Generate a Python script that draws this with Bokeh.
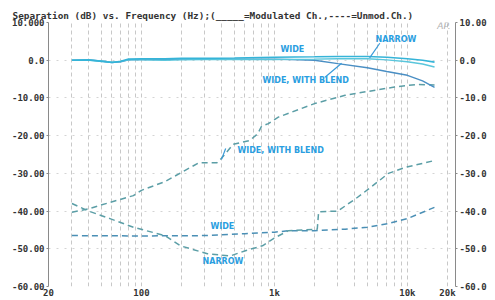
from bokeh.plotting import figure
from bokeh.models import FixedTicker, LinearAxis, Label, Range1d
from bokeh.embed import file_html
from bokeh.resources import INLINE

# ---- data ----
freq_mod = [30, 40, 50, 60, 70, 80, 100, 150, 200, 300, 500, 1000, 2000, 3000, 5000, 7000, 10000, 13000, 16000]
mod_wide = [0.0, 0.1, -0.3, -0.6, -0.3, 0.3, 0.4, 0.4, 0.5, 0.5, 0.6, 0.8, 0.9, 1.0, 1.0, 0.8, 0.4, 0.0, -0.5]
mod_narrow = [0.0, 0.0, -0.2, -0.5, -0.3, 0.1, 0.1, 0.0, 0.1, 0.2, 0.2, 0.2, 0.3, 0.4, 0.4, 0.1, -0.4, -1.0, -1.8]
mod_blend = [0.0, 0.1, -0.2, -0.6, -0.4, 0.1, 0.2, 0.2, 0.3, 0.3, 0.3, 0.3, 0.0, -0.9, -2.0, -3.0, -4.0, -5.5, -7.2]

freq_blend = [30, 40, 58, 87, 100, 150, 270, 370, 400, 490, 650, 750, 800, 900, 1070, 2000, 3400, 8000, 12000, 16000]
unmod_blend = [-40.3, -39.4, -37.7, -35.9, -34.5, -32.2, -27.2, -27.2, -26.0, -22.3, -21.3, -19.5, -17.5, -16.8, -15.1, -11.5, -9.3, -7.1, -6.4, -6.6]

freq_wide = [30, 100, 300, 600, 1000, 1300, 2000, 3400, 5000, 7200, 10000, 16000]
unmod_wide = [-46.5, -46.6, -46.5, -46.0, -45.6, -45.2, -45.2, -44.8, -44.3, -43.3, -42.0, -39.0]

freq_narrow = [30, 40, 58, 87, 150, 196, 313, 467, 605, 813, 1018, 1276, 1700, 2100, 2150, 3000, 4200, 5300, 7200, 9700, 16000]
unmod_narrow = [-38.0, -40.0, -42.0, -44.3, -46.5, -49.2, -51.3, -51.9, -50.5, -49.2, -47.0, -45.2, -45.0, -44.8, -40.2, -40.0, -36.4, -33.7, -30.0, -28.4, -26.6]

y_ticks = [10, 0, -10, -20, -30, -40, -50, -60]
y_left_labels = ["10.000", "0.0", "-10.00", "-20.00", "-30.00", "-40.00", "-50.00", "-60.00"]
y_right_labels = ["10.00", "0.0", "-10.0", "-20.0", "-30.0", "-40.0", "-50.0", "-60.0"]
x_ticks = [20, 100, 1000, 10000, 20000]
x_labels = ["20", "100", "1k", "10k", "20k"]
grid_freqs = [20, 30, 40, 50, 60, 70, 80, 90, 100, 200, 300, 400, 500, 600, 700, 800, 900,
              1000, 2000, 3000, 4000, 5000, 6000, 7000, 8000, 9000, 10000, 20000]

title_text = "Separation (dB) vs. Frequency (Hz);(_____=Modulated Ch.,----=Unmod.Ch.)"

# curve labels: (text, freq, dB)
curve_labels = [
    ("WIDE", 1109, 2.8),
    ("NARROW", 5754, 5.6),
    ("WIDE, WITH BLEND", 813, -5.3),
    ("WIDE, WITH BLEND", 527, -23.9),
    ("WIDE", 330, -44.0),
    ("NARROW", 288, -53.3),
]
# pointer lines: (f0, db0, f1, db1)
pointers = [
    (6200, 4.5, 5200, 0.6),
    (2400, -4.5, 3200, -0.8),
    (400, -26.3, 430, -23.4),
]

MONO = "DejaVu Sans Mono"
TXT = "#333333"

p = figure(width=495, height=300, x_axis_type="log",
           x_range=Range1d(20, 23000), y_range=Range1d(-60, 10),
           output_backend="svg", toolbar_location=None,
           min_border_left=48, min_border_right=40, min_border_top=22, min_border_bottom=12)
p.outline_line_color = None
p.background_fill_color = "white"
p.border_fill_color = "white"

# grids
p.xgrid.ticker = FixedTicker(ticks=grid_freqs)
p.xgrid.grid_line_color = "#c8c8c8"
p.xgrid.grid_line_dash = "4 3"
p.xgrid.grid_line_width = 1
p.ygrid.ticker = FixedTicker(ticks=y_ticks)
p.ygrid.grid_line_color = "#d4d4d4"
p.ygrid.grid_line_dash = "2 6"

# x axis (compact)
xa = p.xaxis[0]
xa.ticker = FixedTicker(ticks=x_ticks)
xa.major_label_overrides = {t: l for t, l in zip(x_ticks, x_labels)}
xa.axis_line_color = None
xa.major_tick_line_color = None
xa.minor_tick_line_color = None
xa.major_tick_out = 0
xa.major_tick_in = 0
xa.minor_tick_out = 0
xa.minor_tick_in = 0
xa.major_label_standoff = 1
xa.major_label_text_font = MONO
xa.major_label_text_font_style = "bold"
xa.major_label_text_font_size = "9px"
xa.major_label_text_color = TXT

# left y axis
ya = p.yaxis[0]
ya.ticker = FixedTicker(ticks=y_ticks)
ya.major_label_overrides = {t: l for t, l in zip(y_ticks, y_left_labels)}
ya.axis_line_color = "#8a8a8a"
ya.major_tick_line_color = "#8a8a8a"
ya.major_tick_out = 2
ya.major_tick_in = 0
ya.minor_tick_line_color = None
ya.minor_tick_out = 0
ya.major_label_standoff = 2
ya.major_label_text_font = MONO
ya.major_label_text_font_style = "bold"
ya.major_label_text_font_size = "9px"
ya.major_label_text_color = TXT

# right y axis
ra = LinearAxis(ticker=FixedTicker(ticks=y_ticks))
ra.major_label_overrides = {t: l for t, l in zip(y_ticks, y_right_labels)}
ra.axis_line_color = "#8a8a8a"
ra.major_tick_line_color = "#8a8a8a"
ra.major_tick_out = 2
ra.major_tick_in = 0
ra.minor_tick_line_color = None
ra.minor_tick_out = 0
ra.major_label_standoff = 2
ra.major_label_text_font = MONO
ra.major_label_text_font_style = "bold"
ra.major_label_text_font_size = "9px"
ra.major_label_text_color = TXT
p.add_layout(ra, "right")

# title
p.title.text = title_text
p.title.text_font = MONO
p.title.text_font_style = "bold"
p.title.text_font_size = "9.4px"
p.title.text_color = TXT
p.title.align = "left"
p.title.offset = -36
p.title.standoff = 3

# unmodulated (dashed)
p.line(freq_blend, unmod_blend, line_color="#5b9ea6", line_width=1.5, line_dash="6 4")
p.line(freq_wide, unmod_wide, line_color="#4a8fb5", line_width=1.5, line_dash="6 4")
p.line(freq_narrow, unmod_narrow, line_color="#5b9ea6", line_width=1.5, line_dash="6 4")

# modulated (solid)
p.line(freq_mod, mod_blend, line_color="#4a8fc4", line_width=1.4)
p.line(freq_mod, mod_narrow, line_color="#5ac6dc", line_width=1.4)
p.line(freq_mod, mod_wide, line_color="#35b4d8", line_width=1.6)

# pointers
for f0, d0, f1, d1 in pointers:
    p.line([f0, f1], [d0, d1], line_color="#3a9ad8", line_width=1.2)

# curve labels
for t, f, d in curve_labels:
    p.add_layout(Label(x=f, y=d, text=t, text_font="DejaVu Sans", text_font_style="bold",
                       text_font_size="8px", text_color="#2a9ee0",
                       text_align="left", text_baseline="middle"))

# handwritten mark
p.add_layout(Label(x=16800, y=9.0, text="AP.", text_font="DejaVu Sans",
                   text_font_style="italic", text_font_size="9px", text_color="#b0b0b0",
                   text_align="left", text_baseline="middle"))

open("out.html", "w").write(file_html(p, INLINE))
